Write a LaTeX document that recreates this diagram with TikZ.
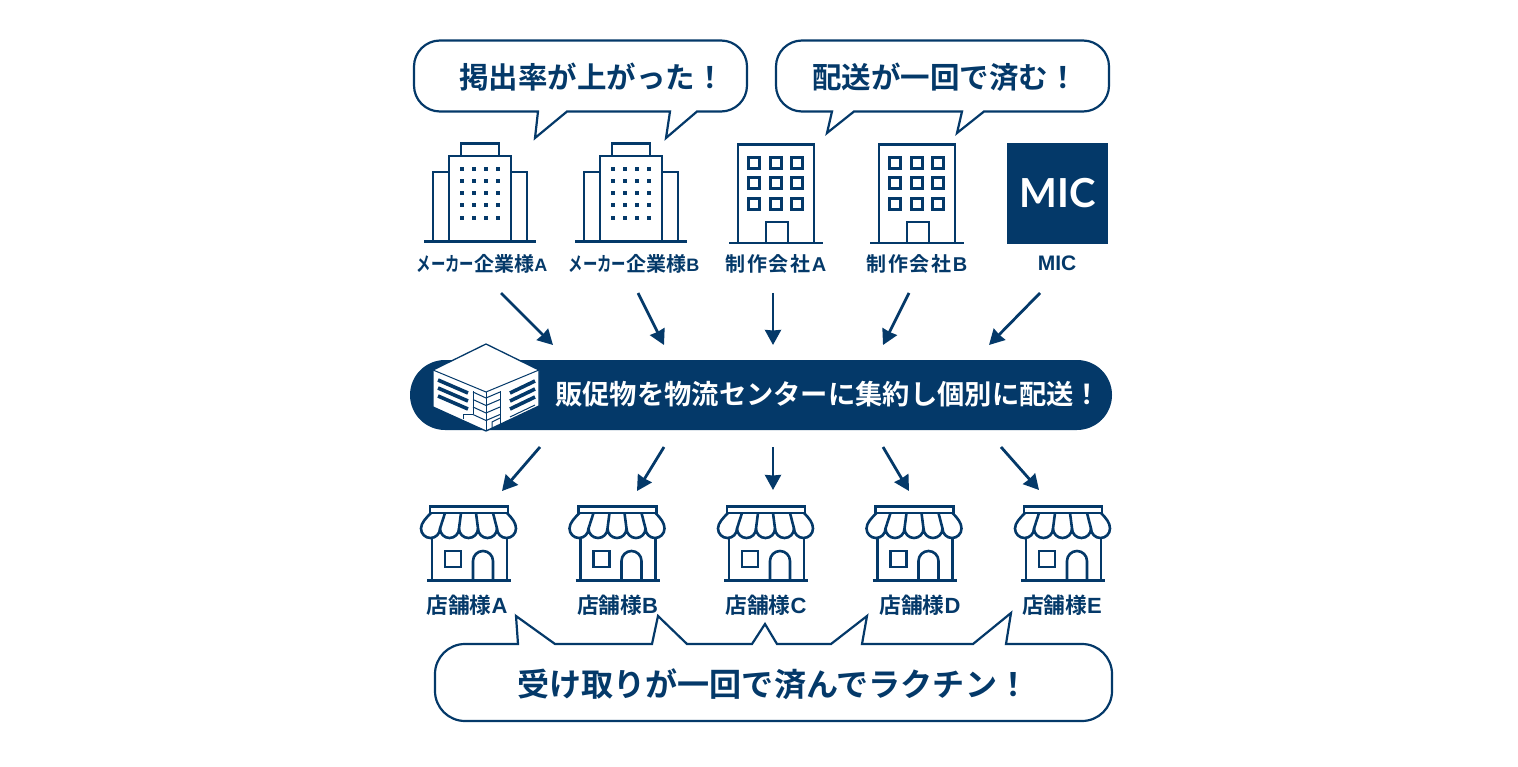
\documentclass[tikz,border=0pt]{standalone}
\usepackage{fontspec}
\newfontfamily\cjk{Noto Sans CJK JP}[BoldFont=* Bold]
\newfontfamily\logofont{Lato}
\newfontfamily\arialfont{Liberation Sans}
\usepackage{tikz}
\usetikzlibrary{arrows.meta}
\definecolor{navy}{RGB}{4,57,105}
\tikzstyle{bubble}=[draw=navy,line width=2.2pt,fill=white,line join=miter]
\tikzstyle{icon}=[draw=navy,line width=2.6pt]
\tikzstyle{flow}=[draw=navy,line width=2.8pt,-{Stealth[length=15pt,width=16pt,inset=.5pt]}]
\tikzstyle{thinline}=[draw=navy,line width=1pt]
\tikzstyle{say}=[font=\cjk\bfseries\fontsize{29.5}{31}\selectfont,text=navy,anchor=west,inner sep=0pt]
\tikzstyle{sitename}=[font=\cjk\bfseries\fontsize{20}{22}\selectfont,text=navy,inner sep=0pt]
\tikzstyle{shopname}=[font=\cjk\bfseries\fontsize{21.7}{24}\selectfont,text=navy,inner sep=0pt]
\newcommand{\kana}[1]{\scalebox{.72}[1]{#1}}
\newcommand{\latn}[2]{{\arialfont\bfseries\fontsize{#1}{#1}\selectfont #2}}
\newcommand{\towericon}[1]{%
  \begin{scope}[xshift=#1]
    \draw[icon] (461,156) -- (461,143.5) -- (499,143.5) -- (499,156);
    \draw[icon] (449,241) -- (449,156) -- (511,156) -- (511,241);
    \draw[icon] (449,172) -- (433,172) -- (433,241);
    \draw[icon] (511,172) -- (527,172) -- (527,241);
    \draw[icon] (424,241.5) -- (536,241.5);
    \foreach \x in {462,474,486,498}
      \foreach \y in {169,181,193,205,218}
        \fill[navy] (\x-1.7,\y-1.7) rectangle (\x+1.7,\y+1.7);
  \end{scope}}
\newcommand{\officeicon}[1]{%
  \begin{scope}[xshift=#1]
    \draw[icon] (738,243) -- (738,144.5) -- (814,144.5) -- (814,243);
    \draw[icon] (729,243) -- (823,243);
    \foreach \x in {754,776,797}
      \foreach \y in {163,183,204}
        \draw[icon] (\x-5.5,\y-5.5) rectangle (\x+5.5,\y+5.5);
    \draw[icon] (766,243) -- (766,222) -- (788,222) -- (788,243);
  \end{scope}}
\newcommand{\shopicon}[1]{%
  \begin{scope}[xshift=#1]
    \draw[icon] (430,506.5) rectangle (508,513);
    \draw[icon] (432,537) -- (432,580);
    \draw[icon] (507,537) -- (507,580);
    \draw[icon] (427,580.5) -- (511,580.5);
    \draw[icon] (445,551) rectangle (461,567);
    \draw[icon] (473,580) -- (473,561) arc (180:360:10) -- (493,580);
    \draw[icon,line join=round] (431,513) .. controls (426,518) and (421,523) .. (421,528.5)
       arc (180:0:9.5) arc (180:0:9.5) arc (180:0:9.5) arc (180:0:9.5) arc (180:0:9.5)
       .. controls (516,523) and (512,518) .. (507,513);
    \draw[icon] (445,513) -- (440,528.5);
    \draw[icon] (461,513) -- (459,528.5);
    \draw[icon] (476,513) -- (478,528.5);
    \draw[icon] (493,513) -- (497,528.5);
  \end{scope}}
\begin{document}
\begin{tikzpicture}[x=1pt,y=-1pt]
    \useasboundingbox (0,0) rectangle (1518,767);

    % speech bubbles
    \draw[bubble] (538,111.5) -- (535,138) -- (567,111.5) -- (670,111.5) -- (666,138) -- (697,111.5) -- (721,111.5)
       arc (90:0:26) -- (747,66.5) arc (0:-90:26) -- (440,40.5) arc (-90:-180:26) -- (414,85.5) arc (180:90:26) -- cycle;
    \draw[bubble] (832,111.5) -- (827,133) -- (854,111.5) -- (962,111.5) -- (957,133) -- (984,111.5) -- (1083,111.5)
       arc (90:0:26) -- (1109,66.5) arc (0:-90:26) -- (802,40.5) arc (-90:-180:26) -- (776,85.5) arc (180:90:26) -- cycle;
    \draw[bubble] (518,644) -- (516,616) -- (555,644) -- (652,644) -- (658,616) -- (687,644) -- (752,644) -- (765,624)
       -- (777,644) -- (831,644) -- (867,616) -- (862,644) -- (973,644) -- (1011,613) -- (1006,644) -- (1082,644)
       arc (-90:0:30) -- (1112,691) arc (0:90:30) -- (465,721) arc (90:180:30) -- (435,674) arc (180:270:30) -- cycle;
    \node[say] (sayA) at (459,77) {掲出率が上がった！};
    \node[say] (sayB) at (812,77) {配送が一回で済む！};
    \node[say,font=\cjk\bfseries\fontsize{32.1}{34}\selectfont] (sayC) at (517,684) {受け取りが一回で済んでラクチン！};

    % senders
    \towericon{0}
    \towericon{151}
    \officeicon{0}
    \officeicon{141}
    \node[fill=navy,minimum size=101pt,inner sep=0pt,font=\logofont\bfseries\fontsize{40}{40}\selectfont,text=white] (logo) at (1057.5,193.5) {MIC};

    \foreach \pos/\name/\label in {{(482,264)/makerA/\kana{メーカー}企業様\latn{18}{A}}, {(634,264)/makerB/\kana{メーカー}企業様\latn{18}{B}}, {(776,264)/makeA/制\kern1.5pt作\kern1.5pt会\kern1.5pt社\kern1.5pt\latn{20}{A}}, {(917,264)/makeB/制\kern1.5pt作\kern1.5pt会\kern1.5pt社\kern1.5pt\latn{20}{B}}, {(1057,263)/mic/\latn{21}{MIC}}}
        \node[sitename] (\name) at \pos {\label};

    % centre band
    \node[fill=navy,rounded corners=35pt,minimum width=702pt,minimum height=70pt,inner sep=0pt] (band) at (761,395) {};
    \node[font=\cjk\bfseries\fontsize{27.3}{29}\selectfont,text=white,anchor=west,inner sep=0pt] (bandtext) at (555,394) {販促物を物流センターに集約し個別に配送！};

    % warehouse
    \draw[thinline,line width=1.3pt,fill=white,line join=round] (486,344) -- (539,370) -- (539,406) -- (486,431) -- (433,407) -- (433,370) -- cycle;
    \draw[thinline] (433,370) -- (486,392) -- (539,370);
    \draw[thinline] (486,392) -- (486,431);
    \foreach \y in {0,8,16}{
        \draw[navy,line width=3.6pt] (438,380+\y) -- (468,393+\y);
        \draw[navy,line width=3.6pt] (510,393+\y) -- (535,381+\y);
    }
    \foreach \y in {0,7.5,15,22.5}{
        \draw[thinline] (473,392+\y) -- (486,398+\y) -- (500,392+\y);
    }
    \draw[thinline] (473,391) -- (473,414);
    \draw[thinline] (500,391) -- (500,424);
    \draw[thinline] (463,419) -- (463,414) -- (473,414);
    \draw[thinline] (510,417) -- (535,405);
    \draw[thinline] (492,428) -- (492,422) -- (500,418);

    % shops
    \foreach \shift in {0,148.5,297,445.5,594}{
        \shopicon{\shift}
    }
    \foreach \pos/\name/\label in {{(467,605)/shopA/店舗様\latn{22}{A}}, {(617.5,605)/shopB/店舗様\latn{22}{B}}, {(766,605)/shopC/店舗様\latn{22}{C}}, {(920,605)/shopD/店舗様\latn{22}{D}}, {(1062,605)/shopE/店舗様\latn{22}{E}}}
        \node[shopname] (\name) at \pos {\label};

    % arrows
    \foreach \pos/\name in {{(501,293)/outA}, {(638,293)/outB}, {(773,293)/outC}, {(909,293)/outD}, {(1040,293)/outE}, {(553,345)/enterA}, {(664,345)/enterB}, {(773,345)/enterC}, {(883,345)/enterD}, {(989,345)/enterE}, {(540,447)/fromA}, {(664,447)/fromB}, {(773,447)/fromC}, {(883,447)/fromD}, {(1001,447)/fromE}, {(502,491)/toA}, {(637,491)/toB}, {(773,490)/toC}, {(909,491)/toD}, {(1039,490)/toE}}
        \node[coordinate] (\name) at \pos {};
    \foreach \source/\dest in {outA/enterA, outB/enterB, outC/enterC, outD/enterD, outE/enterE, fromA/toA, fromB/toB, fromC/toC, fromD/toD, fromE/toE}
        \path[flow] (\source) -- (\dest);
\end{tikzpicture}
\end{document}
